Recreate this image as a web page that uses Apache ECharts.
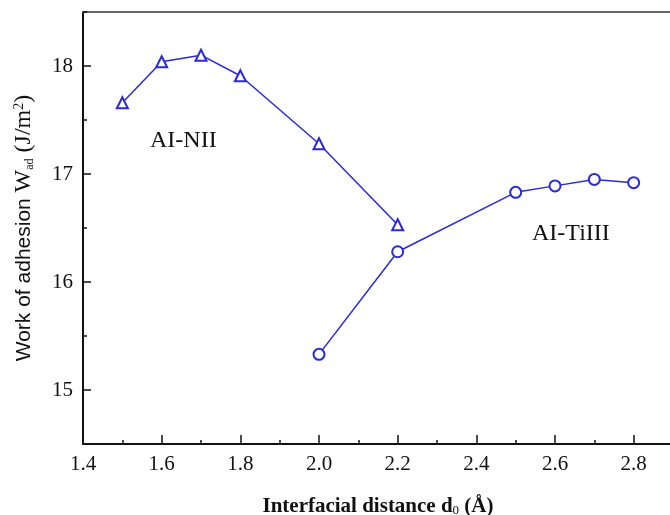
<!DOCTYPE html>
<html><head><meta charset="utf-8">
<script src="https://cdn.jsdelivr.net/npm/echarts@6/dist/echarts.min.js"></script>
<style>html,body{margin:0;padding:0;background:#fff}#c{width:670px;height:515px}</style>
</head><body><div id="c"></div>
<script>
const nilX = [1.5, 1.6, 1.7, 1.8, 2.0, 2.2];
const nilY = [17.66, 18.04, 18.10, 17.91, 17.28, 16.53];
const tiX = [2.0, 2.2, 2.5, 2.6, 2.7, 2.8];
const tiY = [15.33, 16.28, 16.83, 16.89, 16.95, 16.92];
const xTickLabels = [1.4, 1.6, 1.8, 2.0, 2.2, 2.4, 2.6, 2.8];
const xMinorTicks = [1.5, 1.7, 1.9, 2.1, 2.3, 2.5, 2.7];
const yTickLabels = [15, 16, 17, 18];
const yMinorTicks = [15.5, 16.5, 17.5, 18.5];
const labelNil = 'AI-NII';
const labelTi = 'AI-TiIII';

const serif = 'Liberation Serif';
const sans = 'Liberation Sans';
const blue = '#2a2ad6';
const ink = '#111';
const chart = echarts.init(document.getElementById('c'));
function pairs(xs, ys){ return xs.map((x,i)=>[x, ys[i]]); }
const XMIN = 1.4, XMAX = 2.9, YMIN = 14.5, YMAX = 18.5;
chart.setOption({
  animation: false,
  grid: {left: 83, top: 12, width: 590, height: 432, containLabel: false, outerBoundsMode: 'none'},
  xAxis: [{
    type: 'value', min: XMIN, max: XMAX,
    axisLine: {lineStyle: {color: ink, width: 2}},
    axisTick: {inside: true, length: 9, customValues: xTickLabels, lineStyle: {color: ink, width: 1.5}},
    splitLine: {show: false},
    axisLabel: {
      customValues: xTickLabels,
      fontFamily: serif, fontSize: 21, color: ink, margin: 10,
      formatter: v => v.toFixed(1)
    },
    name: '{a|Interfacial distance d}{s|0}{a| (Å)}',
    nameLocation: 'middle', nameGap: 52,
    nameTextStyle: {
      rich: {
        a: {fontFamily: serif, fontSize: 21, color: ink, fontWeight: 'bold'},
        s: {fontFamily: serif, fontSize: 13, color: ink, verticalAlign: 'bottom'}
      }
    }
  }, {
    type: 'value', position: 'bottom', min: XMIN, max: XMAX,
    axisLine: {show: false},
    axisTick: {show: true, inside: true, length: 4, customValues: xMinorTicks, lineStyle: {color: ink, width: 1.5}},
    axisLabel: {show: false}, splitLine: {show: false}
  }, {
    type: 'value', position: 'top', min: XMIN, max: XMAX,
    axisLine: {show: true, lineStyle: {color: '#666', width: 2}},
    axisTick: {show: false}, axisLabel: {show: false}, splitLine: {show: false}
  }],
  yAxis: [{
    type: 'value', min: YMIN, max: YMAX,
    axisLine: {show: true, lineStyle: {color: ink, width: 2}},
    axisTick: {show: true, inside: true, length: 8, customValues: yTickLabels, lineStyle: {color: ink, width: 1.5}},
    splitLine: {show: false},
    axisLabel: {
      customValues: yTickLabels,
      fontFamily: serif, fontSize: 21, color: ink, margin: 10,
      formatter: v => String(v)
    },
    name: '{b|Work of adhesion }{a|W}{s|ad}{a| (J/m}{p|2}{a|)}',
    nameLocation: 'middle', nameGap: 47, nameRotate: 90,
    nameTextStyle: {
      rich: {
        b: {fontFamily: sans, fontSize: 21, color: ink},
        a: {fontFamily: serif, fontSize: 24, color: ink},
        s: {fontFamily: serif, fontSize: 12, color: ink, verticalAlign: 'bottom'},
        p: {fontFamily: serif, fontSize: 14, color: ink, verticalAlign: 'top'}
      }
    }
  }, {
    type: 'value', position: 'left', min: YMIN, max: YMAX,
    axisLine: {show: false},
    axisTick: {show: true, inside: true, length: 4, customValues: yMinorTicks, lineStyle: {color: ink, width: 1.5}},
    axisLabel: {show: false}, splitLine: {show: false}
  }],
  series: [{
    type: 'line', data: pairs(nilX, nilY),
    symbol: 'triangle', symbolSize: 11,
    lineStyle: {color: blue, width: 1.5},
    itemStyle: {color: '#fff', borderColor: blue, borderWidth: 2},
    z: 3
  }, {
    type: 'line', data: pairs(tiX, tiY),
    symbol: 'circle', symbolSize: 11,
    lineStyle: {color: blue, width: 1.5},
    itemStyle: {color: '#fff', borderColor: blue, borderWidth: 2},
    z: 3
  }],
  graphic: [
    {type: 'text', left: 150, top: 129, style: {text: labelNil, font: '24px "Liberation Serif"', fill: ink}},
    {type: 'text', left: 532, top: 222, style: {text: labelTi, font: '24px "Liberation Serif"', fill: ink}}
  ]
});
</script></body></html>
